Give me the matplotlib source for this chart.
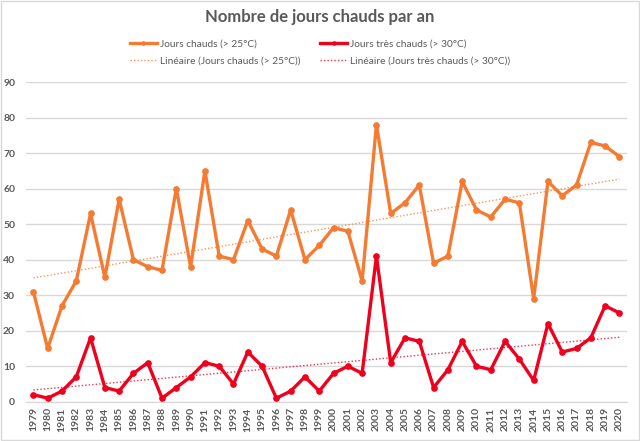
import numpy as np
import matplotlib
matplotlib.use("Agg")
import matplotlib.pyplot as plt
from matplotlib.patches import Rectangle

plt.rcParams['font.family'] = ['Lato', 'DejaVu Sans']

# data
years = list(range(1979, 2021))
jours_chauds = [31, 15, 27, 34, 53, 35, 57, 40, 38, 37, 60, 38, 65, 41, 40, 51, 43, 41, 54, 40, 44,
                49, 48, 34, 78, 53, 56, 61, 39, 41, 62, 54, 52, 57, 56, 29, 62, 58, 61, 73, 72, 69]
jours_tres_chauds = [2, 1, 3, 7, 18, 4, 3, 8, 11, 1, 4, 7, 11, 10, 5, 14, 10, 1, 3, 7, 3,
                     8, 10, 8, 41, 11, 18, 17, 4, 9, 17, 10, 9, 17, 12, 6, 22, 14, 15, 18, 27, 25]

orange = '#F47B31'
red = '#F0001C'
grey_txt = '#595959'

fig = plt.figure(figsize=(6.4, 4.41), dpi=100)
ax = fig.add_axes([0.041, 0.089, 0.938, 0.725])

x = np.arange(len(years))

# linear trend lines (like Excel "Linéaire")
p1 = np.polyfit(x, jours_chauds, 1)
p2 = np.polyfit(x, jours_tres_chauds, 1)

l1, = ax.plot(x, jours_chauds, color=orange, lw=2.4, marker='o', ms=3.8, label='Jours chauds (> 25°C)', zorder=3)
t1, = ax.plot(x, np.polyval(p1, x), color=orange, lw=1.0, ls=(0, (1, 1.5)), alpha=0.8,
              label='Linéaire (Jours chauds (> 25°C))', zorder=2)
l2, = ax.plot(x, jours_tres_chauds, color=red, lw=2.4, marker='o', ms=3.8, label='Jours très chauds (> 30°C)', zorder=3)
t2, = ax.plot(x, np.polyval(p2, x), color=red, lw=1.0, ls=(0, (1, 1.5)), alpha=0.8,
              label='Linéaire (Jours très chauds (> 30°C))', zorder=2)

ax.set_xlim(-0.5, len(years) - 0.5)
ax.set_ylim(0, 90)
ax.set_yticks(range(0, 91, 10))
ax.set_xticks(x)
ax.set_xticklabels([str(y) for y in years], rotation=90, fontsize=7.5, color=grey_txt, fontweight='bold')
ax.tick_params(axis='y', labelsize=7.5, labelcolor=grey_txt, length=0, pad=8)
ax.tick_params(axis='x', length=0, pad=4)
for lab in ax.get_yticklabels():
    lab.set_fontweight('bold')
ax.grid(axis='y', color='#D9D9D9', lw=1)
ax.set_axisbelow(True)
for s in ['top', 'right', 'left']:
    ax.spines[s].set_visible(False)
ax.spines['bottom'].set_color('#D9D9D9')

fig.text(0.5, 0.962, 'Nombre de jours chauds par an', ha='center', va='center',
         fontsize=12, fontweight='bold', color=grey_txt)

fig.legend(handles=[l1, t1, l2, t2], ncol=2, loc='center', bbox_to_anchor=(0.5, 0.881),
           frameon=False, fontsize=7.3, labelcolor=grey_txt, handlelength=2.6,
           columnspacing=2.0, handletextpad=0.3, labelspacing=0.85, markerscale=0.6)

fig.patches.append(Rectangle((0.002, 0.002), 0.996, 0.996, transform=fig.transFigure,
                             fill=False, edgecolor='#D9D9D9', lw=1))

fig.savefig('out.png', dpi=100)
